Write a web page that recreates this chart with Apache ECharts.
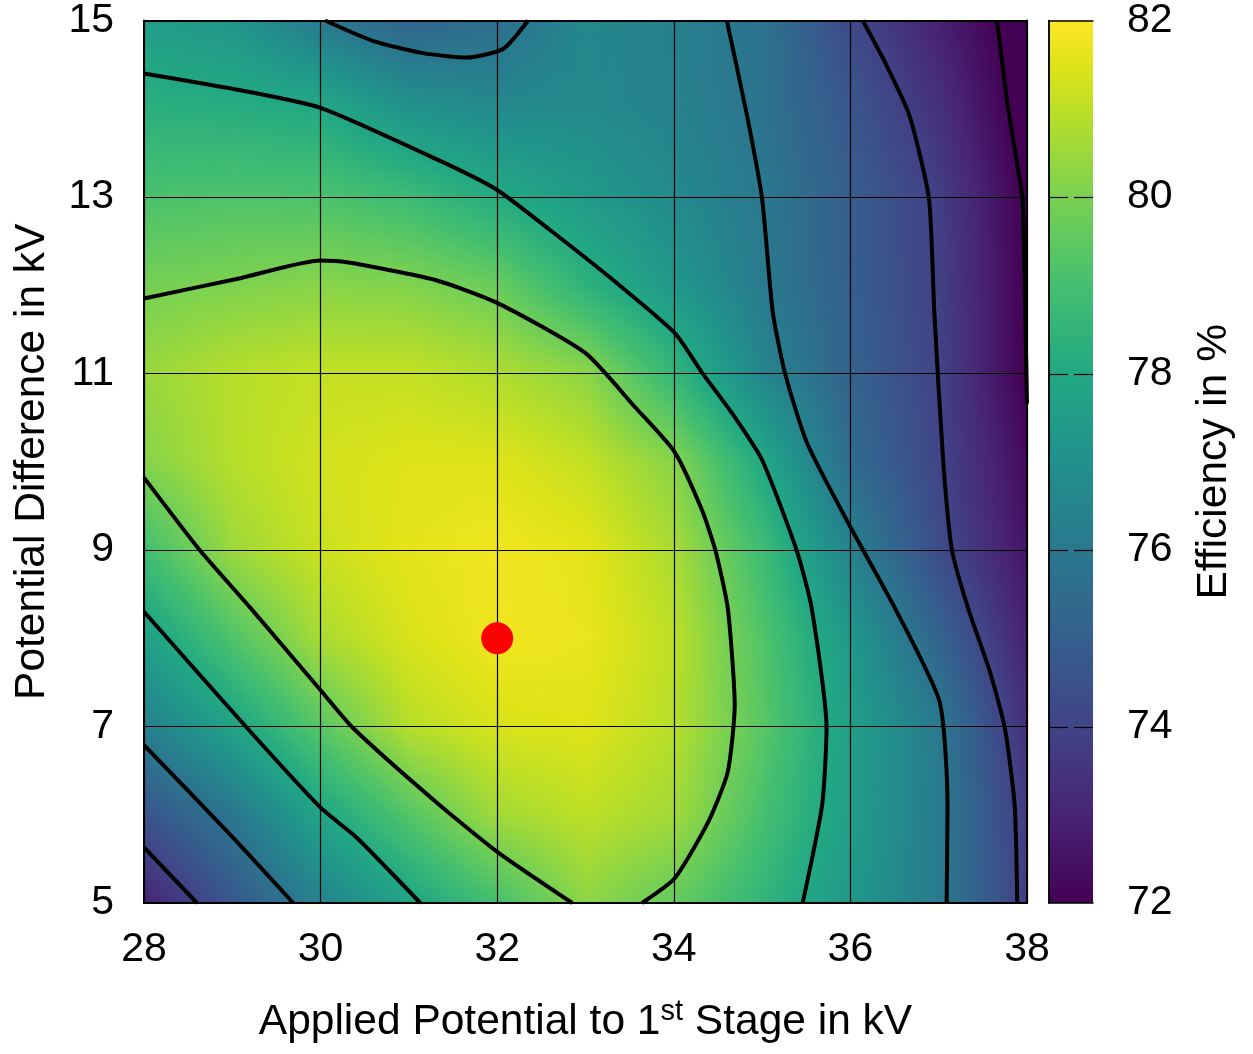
<!DOCTYPE html>
<html>
<head>
<meta charset="utf-8">
<title>Efficiency map</title>
<script src="https://cdn.jsdelivr.net/npm/echarts@6/dist/echarts.min.js"></script>
<style>
  html, body { margin: 0; padding: 0; background: #ffffff; }
  #chart { width: 1253px; height: 1054px; }
</style>
</head>
<body>
<div id="chart"></div>
<script>
// Measurement grid: applied potential to the 1st stage (kV) and potential difference (kV)
const stageVoltages = [28, 29, 30, 31, 32, 33, 34, 35, 36, 37, 38];
const potentialDiffs = [5, 6, 7, 8, 9, 10, 11, 12, 13, 14, 15];

// Efficiency in % for each potential difference, one value per stage voltage
const effAt5kV  = [72.9, 74.7, 76.4, 77.8, 79.0, 80.3, 79.6, 78.5, 77.3, 76.1, 73.8];
const effAt6kV  = [74.6, 75.9, 77.85, 79.3, 80.6, 81.0, 80.6, 79.05, 77.55, 76.1, 73.7];
const effAt7kV  = [76.3, 77.75, 79.4, 80.9, 81.4, 81.5, 80.9, 79.4, 77.6, 76.05, 73.3];
const effAt8kV  = [77.6, 79.2, 80.7, 81.4, 81.8, 81.7, 81.0, 79.25, 77.3, 75.2, 72.9];
const effAt9kV  = [78.9, 80.5, 81.2, 81.6, 81.8, 81.6, 80.7, 78.85, 76.4, 74.3, 72.5];
const effAt10kV = [80.15, 80.9, 81.3, 81.5, 81.5, 81.1, 80.2, 78.0, 75.5, 74.05, 72.25];
const effAt11kV = [80.45, 80.9, 81.1, 81.1, 80.8, 80.3, 78.6, 76.55, 75.15, 74.0, 71.9];
const effAt12kV = [79.9, 80.05, 80.2, 80.1, 79.7, 78.4, 77.3, 76.1, 75.0, 73.9, 71.95];
const effAt13kV = [79.1, 79.2, 79.15, 78.8, 78.1, 77.4, 76.7, 76.0, 74.95, 73.85, 71.9];
const effAt14kV = [78.3, 78.2, 78.0, 77.1, 76.7, 76.7, 76.4, 75.8, 74.7, 73.4, 71.65];
const effAt15kV = [77.5, 77.2, 76.05, 75.2, 75.6, 76.6, 76.3, 75.8, 74.2, 72.9, 71.55];
const efficiencyRows = [effAt5kV, effAt6kV, effAt7kV, effAt8kV, effAt9kV, effAt10kV,
                        effAt11kV, effAt12kV, effAt13kV, effAt14kV, effAt15kV];

// Iso-efficiency lines, [stage voltage, potential difference]
const iso80Main = [[28, 11.85], [29.09, 12.08], [30, 12.28], [30.3, 12.26], [31.3, 12.06],
  [32.0, 11.8], [33.0, 11.23], [33.56, 10.62], [34.01, 10.11],
  [34.32, 9.45], [34.47, 9.0], [34.61, 8.35], [34.69, 7.24], [34.61, 6.48],
  [34.39, 5.92], [34.01, 5.28], [33.64, 5.0]];
const iso80Corner = [[28, 9.82], [28.63, 9.0], [29.2, 8.35], [30, 7.41], [30.37, 6.98], [31.3, 6.15],
  [32.0, 5.58], [32.85, 5.0]];
const iso78Main = [[28, 14.40], [29.09, 14.21], [30, 14.01], [31.33, 13.42], [32.0, 13.08],
  [32.58, 12.64], [33.25, 12.11], [34.01, 11.46], [34.32, 11.01],
  [34.66, 10.55], [35.0, 10.02], [35.39, 9.0], [35.56, 8.35], [35.73, 6.98],
  [35.68, 6.11], [35.46, 5.0]];
const iso78Corner = [[28, 8.30], [29.17, 6.98], [30, 6.08], [30.41, 5.74], [31.13, 5.0]];
const iso76Main = [[34.6, 15], [34.83, 13.92], [35.0, 12.98], [35.12, 11.7],
  [35.26, 11.0], [35.51, 10.21], [36.0, 9.26], [36.5, 8.35],
  [37.01, 7.28], [37.1, 6.11], [37.09, 5.0]];
const iso76Top = [[30.05, 15], [30.59, 14.77], [31.16, 14.63], [31.66, 14.58], [32.07, 14.68], [32.35, 15]];
const iso76Corner = [[28, 6.79], [29.0, 5.75], [29.69, 5.0]];
const iso74Right = [[36.14, 15], [36.41, 14.49], [36.67, 13.92], [36.89, 12.98], [36.95, 11.7],
  [37.05, 10.02], [37.15, 9.0], [37.33, 8.35], [37.58, 7.62], [37.75, 6.98],
  [37.86, 6.11], [37.89, 5.0]];
const iso74Corner = [[28, 5.63], [28.6, 5.0]];
const iso72Right = [[37.66, 15], [37.77, 14.12], [37.89, 13.36], [37.95, 12.98], [37.98, 11.7], [38, 10.66]];

// Best operating point
const optimumPoint = [[32, 8]];

// Colour scale range (%) and its tick values
const effRange = [72, 82];
const effTicks = [74, 76, 78, 80];

// Viridis palette
const viridis = [
  [0.0, '#440154'], [0.1, '#482475'], [0.2, '#414487'], [0.3, '#355f8d'], [0.4, '#2a788e'],
  [0.5, '#21918c'], [0.6, '#22a884'], [0.7, '#44bf70'], [0.8, '#7ad151'], [0.9, '#bddf26'],
  [0.95, '#dfe318'], [1.0, '#fde725']
];
const viridisRgb = viridis.map(([t, hex]) => [t, [1, 3, 5].map(i => parseInt(hex.substr(i, 2), 16))]);

function paletteAt(t) {
  t = Math.min(1, Math.max(0, t));
  for (let i = 1; i < viridisRgb.length; i++) {
    const [t1, c1] = viridisRgb[i];
    if (t <= t1) {
      const [t0, c0] = viridisRgb[i - 1];
      const f = (t - t0) / (t1 - t0);
      const c = c0.map((v, k) => Math.round(v + (c1[k] - v) * f));
      return 'rgb(' + c.join(',') + ')';
    }
  }
  const last = viridisRgb[viridisRgb.length - 1][1];
  return 'rgb(' + last.join(',') + ')';
}

function normalise(v) { return (v - effRange[0]) / (effRange[1] - effRange[0]); }

// Colour stops for a value that varies linearly from a (left) to b (right)
function rowStops(a, b) {
  const ta = normalise(a), tb = normalise(b);
  if (Math.abs(tb - ta) < 1e-6) {
    const c = paletteAt(ta);
    return [{ offset: 0, color: c }, { offset: 1, color: c }];
  }
  const lo = Math.min(ta, tb), hi = Math.max(ta, tb);
  const inner = [];
  for (const [t] of viridisRgb) {
    if (t > lo && t < hi) inner.push({ offset: (t - ta) / (tb - ta), color: paletteAt(t) });
  }
  inner.sort((p, q) => p.offset - q.offset);
  return [{ offset: 0, color: paletteAt(ta) }].concat(inner, [{ offset: 1, color: paletteAt(tb) }]);
}

// One data item per grid cell: corners and the four corner values
const cells = [];
for (let j = 0; j < potentialDiffs.length - 1; j++) {
  for (let i = 0; i < stageVoltages.length - 1; i++) {
    cells.push([
      stageVoltages[i], potentialDiffs[j], stageVoltages[i + 1], potentialDiffs[j + 1],
      efficiencyRows[j][i], efficiencyRows[j][i + 1], efficiencyRows[j + 1][i], efficiencyRows[j + 1][i + 1]
    ]);
  }
}

// Shade a cell with bilinear blending of its corner values
function renderCell(params, api) {
  const pA = api.coord([api.value(0), api.value(1)]);
  const pB = api.coord([api.value(2), api.value(3)]);
  const z00 = api.value(4), z10 = api.value(5), z01 = api.value(6), z11 = api.value(7);
  const left = pA[0], right = pB[0], bottom = pA[1], top = pB[1];
  const h = bottom - top;
  const n = Math.max(1, Math.round(h / 1.5));
  const children = [];
  for (let r = 0; r < n; r++) {
    const t = (r + 0.5) / n;
    const zl = z00 + (z01 - z00) * t;
    const zr = z10 + (z11 - z10) * t;
    const yb = bottom - r * h / n;
    const yt = bottom - (r + 1) * h / n;
    children.push({
      type: 'rect',
      shape: { x: left, y: yt - 0.4, width: right - left + 0.5, height: (yb - yt) + 0.8 },
      style: { fill: new echarts.graphic.LinearGradient(0, 0, 1, 0, rowStops(zl, zr)) },
      silent: true
    });
  }
  return { type: 'group', children };
}

// Colour bar fill with short tick marks on both edges
function renderBar(params, api) {
  const pA = api.coord([api.value(0), api.value(1)]);
  const pB = api.coord([api.value(2), api.value(3)]);
  const left = pA[0], right = pB[0];
  const children = [{
    type: 'rect',
    shape: { x: left, y: pB[1], width: right - left, height: pA[1] - pB[1] },
    style: { fill: new echarts.graphic.LinearGradient(0, 1, 0, 0, viridis.map(([t, c]) => ({ offset: t, color: c }))) },
    silent: true
  }];
  const tickLen = 19;
  effTicks.forEach(v => {
    const y = Math.round(api.coord([0, v])[1]) + 0.5;
    children.push({ type: 'line', shape: { x1: left, y1: y, x2: left + tickLen, y2: y },
      style: { stroke: '#000', lineWidth: 1.2 }, silent: true });
    children.push({ type: 'line', shape: { x1: right - tickLen, y1: y, x2: right, y2: y },
      style: { stroke: '#000', lineWidth: 1.2 }, silent: true });
  });
  return { type: 'group', children };
}

const FONT = 'Liberation Sans, Arial, sans-serif';
const labelStyle = { color: '#000', fontSize: 41, fontFamily: FONT };
const titleSize = 42.5;
const frameLine = { show: true, lineStyle: { color: '#000', width: 2 } };
const barLine = { show: true, lineStyle: { color: '#000', width: 1.5 } };

function isoLine(data) {
  return {
    type: 'line', xAxisIndex: 0, yAxisIndex: 0, data,
    symbol: 'none', showSymbol: false, smooth: 0.2,
    lineStyle: { color: '#000', width: 4 }, z: 6, silent: true
  };
}

const chart = echarts.init(document.getElementById('chart'), null, { renderer: 'canvas' });
chart.setOption({
  animation: false,
  backgroundColor: '#ffffff',
  grid: [
    { left: 144, top: 20, width: 883, height: 883 },
    { left: 1049, top: 20, width: 44, height: 883 }
  ],
  xAxis: [
    {
      gridIndex: 0, type: 'value', position: 'bottom', min: 28, max: 38, interval: 2, z: 5,
      axisLine: frameLine, axisTick: { show: false },
      axisLabel: Object.assign({ margin: 26 }, labelStyle),
      splitLine: { show: true, lineStyle: { color: '#000', width: 1.2 } },
      name: '{n|Applied Potential to 1}{s|st}{n| Stage in kV}',
      nameLocation: 'middle', nameGap: 94,
      nameTextStyle: {
        rich: {
          n: { fontSize: titleSize, fontFamily: FONT, color: '#000', lineHeight: 50 },
          s: { fontSize: 29, fontFamily: FONT, color: '#000', verticalAlign: 'top', lineHeight: 50, padding: [0, 0, 14, 0] }
        }
      }
    },
    {
      gridIndex: 0, type: 'value', position: 'top', min: 28, max: 38, interval: 2, z: 5,
      axisLine: frameLine, axisTick: { show: false }, axisLabel: { show: false }, splitLine: { show: false }
    },
    {
      gridIndex: 1, type: 'value', position: 'bottom', min: 0, max: 1, z: 5,
      axisLine: barLine, axisTick: { show: false }, axisLabel: { show: false }, splitLine: { show: false }
    },
    {
      gridIndex: 1, type: 'value', position: 'top', min: 0, max: 1, z: 5,
      axisLine: barLine, axisTick: { show: false }, axisLabel: { show: false }, splitLine: { show: false }
    }
  ],
  yAxis: [
    {
      gridIndex: 0, type: 'value', position: 'left', min: 5, max: 15, interval: 2, z: 5,
      axisLine: frameLine, axisTick: { show: false },
      axisLabel: Object.assign({ margin: 30 }, labelStyle),
      splitLine: { show: true, lineStyle: { color: '#000', width: 1.2 } },
      name: 'Potential Difference in kV', nameLocation: 'middle', nameRotate: 90, nameGap: 90,
      nameTextStyle: { fontSize: titleSize, fontFamily: FONT, color: '#000' }
    },
    {
      gridIndex: 0, type: 'value', position: 'right', min: 5, max: 15, interval: 2, z: 5,
      axisLine: frameLine, axisTick: { show: false }, axisLabel: { show: false }, splitLine: { show: false }
    },
    {
      gridIndex: 1, type: 'value', position: 'right', min: effRange[0], max: effRange[1], interval: 2, z: 5,
      axisLine: barLine, axisTick: { show: false },
      axisLabel: Object.assign({ margin: 34 }, labelStyle),
      splitLine: { show: false },
      name: 'Efficiency in %', nameLocation: 'middle', nameRotate: 90, nameGap: 100,
      nameTextStyle: { fontSize: titleSize, fontFamily: FONT, color: '#000' }
    },
    {
      gridIndex: 1, type: 'value', position: 'left', min: effRange[0], max: effRange[1], interval: 2, z: 5,
      axisLine: barLine, axisTick: { show: false }, axisLabel: { show: false }, splitLine: { show: false }
    }
  ],
  series: [
    {
      type: 'custom', xAxisIndex: 0, yAxisIndex: 0, data: cells, renderItem: renderCell,
      encode: { x: [0, 2], y: [1, 3] }, z: 1, silent: true, clip: true
    },
    {
      type: 'custom', xAxisIndex: 2, yAxisIndex: 2, data: [[0, effRange[0], 1, effRange[1]]],
      renderItem: renderBar, encode: { x: [0, 2], y: [1, 3] }, z: 1, silent: true
    },
    isoLine(iso80Main), isoLine(iso80Corner),
    isoLine(iso78Main), isoLine(iso78Corner),
    isoLine(iso76Main), isoLine(iso76Top), isoLine(iso76Corner),
    isoLine(iso74Right), isoLine(iso74Corner),
    isoLine(iso72Right),
    {
      type: 'scatter', xAxisIndex: 0, yAxisIndex: 0, data: optimumPoint,
      symbol: 'circle', symbolSize: 32, itemStyle: { color: '#ff0000', opacity: 1 }, z: 10, silent: true
    }
  ]
});
</script>
</body>
</html>
